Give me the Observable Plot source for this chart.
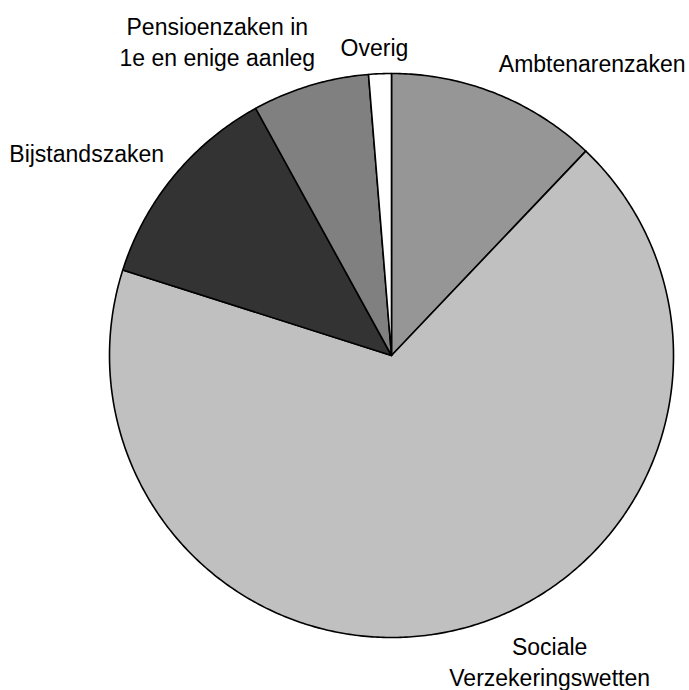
<!DOCTYPE html>
<html>
<head>
<meta charset="utf-8">
<script src="https://cdn.jsdelivr.net/npm/d3@7"></script>
<script src="https://cdn.jsdelivr.net/npm/@observablehq/plot@0.6"></script>
<style>
  html, body { margin: 0; padding: 0; background: #fff; }
</style>
</head>
<body>
<div id="chart"></div>
<script>
// Data
const categories = ["Ambtenarenzaken", "Sociale Verzekeringswetten", "Bijstandszaken", "Pensioenzaken in 1e en enige aanleg", "Overig"];
const values = [12.1, 67.8, 12.1, 6.7, 1.3];
const labelTexts = ["Ambtenarenzaken", "Sociale\nVerzekeringswetten", "Bijstandszaken", "Pensioenzaken in\n1e en enige aanleg", "Overig"];

// Styles / layout
const sliceColors = ["#969696", "#c0c0c0", "#333333", "#808080", "#ffffff"];
const labelOffsets = [[96, -31.5], [88, 32], [-87, -24], [-93, -45], [-5.5, -27.5]];

const arcs = d3.pie().sort(null).value(d => d)(values);

// Slice outlines in unit-circle data space (angle clockwise from north)
const slicePts = [];
arcs.forEach((a, i) => {
  const cat = categories[i];
  slicePts.push({cat, x: 0, y: 0});
  const n = Math.max(2, Math.ceil((a.endAngle - a.startAngle) / 0.01));
  for (let k = 0; k <= n; k++) {
    const t = a.startAngle + (a.endAngle - a.startAngle) * k / n;
    slicePts.push({cat, x: Math.sin(t), y: Math.cos(t)});
  }
});

const labelData = arcs.map((a, i) => {
  const m = (a.startAngle + a.endAngle) / 2;
  return {cat: categories[i], text: labelTexts[i], x: Math.sin(m), y: Math.cos(m)};
});

const font = "'Liberation Sans', Arial, sans-serif";

const plot = Plot.plot({
  width: 689,
  height: 690,
  x: {domain: [-1, 1], range: [109, 673], axis: null},
  y: {domain: [-1, 1], range: [637, 73], axis: null},
  color: {domain: categories, range: sliceColors},
  style: {fontFamily: font, background: "#fff"},
  marks: [
    Plot.line(slicePts, {
      x: "x", y: "y", z: "cat", fill: "cat",
      stroke: "#000", strokeWidth: 1.6, curve: "linear-closed", strokeLinejoin: "round"
    }),
    ...labelData.map((d, i) => Plot.text([d], {
      x: "x", y: "y", text: "text",
      dx: labelOffsets[i][0], dy: labelOffsets[i][1],
      fontSize: 23, lineHeight: 1.35, fill: "#000",
      textAnchor: "middle", lineAnchor: "middle"
    }))
  ]
});

document.getElementById("chart").appendChild(plot);
</script>
</body>
</html>
